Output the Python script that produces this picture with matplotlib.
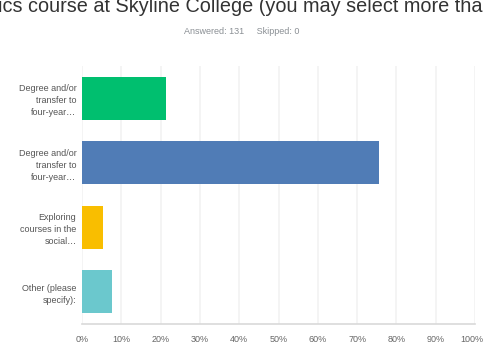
import matplotlib.pyplot as plt
import matplotlib.transforms as mtransforms

categories = [
    "Degree and/or\ntransfer to\nfour-year\u2026",
    "Degree and/or\ntransfer to\nfour-year\u2026",
    "Exploring\ncourses in the\nsocial\u2026",
    "Other (please\nspecify):",
]
percents = [21.37, 75.57, 5.34, 7.63]
bar_colors = ["#00BF6F", "#507CB6", "#F9BE00", "#6BC8CD"]
x_ticks = [0, 10, 20, 30, 40, 50, 60, 70, 80, 90, 100]
x_tick_labels = [f"{t}%" for t in x_ticks]

title_text = "ics course at Skyline College (you may select more tha"
subtitle_text = "Answered: 131     Skipped: 0"

plt.rcParams["font.family"] = ["Liberation Sans", "DejaVu Sans"]

fig = plt.figure(figsize=(4.83, 3.43), dpi=100)
ax = fig.add_axes([82 / 483, 1 - 324 / 343, (475 - 82) / 483, (324 - 66) / 343])

ypos = list(range(len(categories)))
ax.barh(ypos, percents, height=0.667, color=bar_colors, zorder=3)

ax.set_xlim(0, 100)
ax.set_ylim(len(categories) - 0.5, -0.5)
ax.set_xticks(x_ticks)
ax.set_xticklabels(x_tick_labels, fontsize=6.5, color="#666666")
ax.set_yticks(ypos)
ax.set_yticklabels(categories, fontsize=6.5, color="#555555", linespacing=1.45)
ax.tick_params(axis="both", length=0)
ax.tick_params(axis="x", pad=8)
ax.tick_params(axis="y", pad=4)

ax.grid(axis="x", color="#f2f2f2", linewidth=1.2, zorder=0)
for side in ["top", "right", "left"]:
    ax.spines[side].set_visible(False)
ax.spines["bottom"].set_color("#d9d9d9")
ax.spines["bottom"].set_linewidth(1.2)

# last tick label sits left of its gridline
last = ax.get_xticklabels()[-1]
last.set_horizontalalignment("right")
last.set_transform(last.get_transform() + mtransforms.ScaledTranslation(8 / 100, 0, fig.dpi_scale_trans))

fig.text(-0.004, 1 - 12 / 343, title_text, fontsize=14.3, color="#333333", ha="left", va="baseline")
fig.text(0.5, 1 - 31 / 343, subtitle_text, fontsize=6.5, color="#8a8f94", ha="center", va="center")

fig.savefig("out.png", dpi=100)
